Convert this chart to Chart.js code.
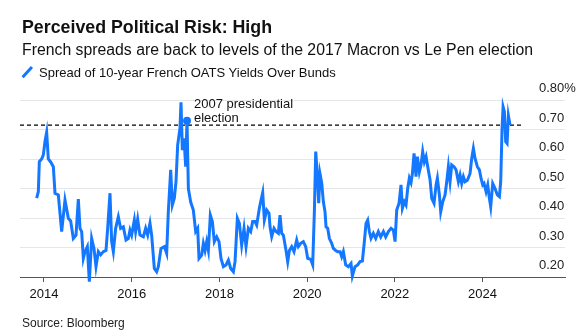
<!DOCTYPE html>
<html>
<head>
<meta charset="utf-8">
<script src="https://cdn.jsdelivr.net/npm/chart.js@4"></script>
<style>
  body { margin: 0; background: #fff; }
  .wrap { position: relative; width: 586px; height: 336px; font-family: "Liberation Sans", Arial, sans-serif; color: #111; }
  .wrap canvas { position: absolute; left: 0; top: 0; }
  .txt { position: absolute; left: 22px; line-height: 1; white-space: nowrap; }
  .title { top: 19px; font-size: 17.8px; font-weight: bold; }
  .sub { top: 41.6px; font-size: 15.8px; }
  .legend { top: 66px; left: 39px; font-size: 13px; }
  .swatch { position: absolute; left: 26px; top: 65px; width: 2.5px; height: 13.5px; background: #1477ff; transform: rotate(42deg); }
  .source { top: 317px; font-size: 12px; color: #222; }
</style>
</head>
<body>
<div class="wrap">
  <canvas id="spreadChart" width="586" height="336"></canvas>
  <div class="txt title">Perceived Political Risk: High</div>
  <div class="txt sub">French spreads are back to levels of the 2017 Macron vs Le Pen election</div>
  <div class="swatch"></div>
  <div class="txt legend">Spread of 10-year French OATS Yields Over Bunds</div>
  <div class="txt source">Source: Bloomberg</div>
</div>
<script>
// 10y OAT - Bund spread, % (dates as decimal years)
const dates = [
  2013.833, 2013.871, 2013.894, 2013.947, 2013.985, 2014.023, 2014.061, 2014.099, 2014.152, 2014.213,
  2014.251, 2014.327, 2014.403, 2014.479, 2014.555, 2014.608, 2014.669, 2014.730, 2014.783, 2014.821,
  2014.859, 2014.897, 2014.935, 2014.988, 2015.034, 2015.087, 2015.140, 2015.186, 2015.239, 2015.292,
  2015.353, 2015.414, 2015.452, 2015.505, 2015.543, 2015.581, 2015.634, 2015.695, 2015.748, 2015.809,
  2015.870, 2015.923, 2015.961, 2015.999, 2016.060, 2016.090, 2016.136, 2016.189, 2016.265, 2016.318,
  2016.364, 2016.417, 2016.455, 2016.516, 2016.569, 2016.607, 2016.668, 2016.744, 2016.797, 2016.835,
  2016.889, 2016.927, 2016.972, 2017.010, 2017.048, 2017.101, 2017.124, 2017.155, 2017.193, 2017.231,
  2017.261, 2017.292, 2017.345, 2017.405, 2017.459, 2017.504, 2017.535, 2017.596, 2017.634, 2017.672,
  2017.710, 2017.748, 2017.793, 2017.839, 2017.884, 2017.938, 2017.991, 2018.036, 2018.090, 2018.150,
  2018.204, 2018.257, 2018.318, 2018.356, 2018.409, 2018.455, 2018.508, 2018.561, 2018.607, 2018.660,
  2018.713, 2018.759, 2018.812, 2018.850, 2018.911, 2018.941, 2018.987, 2019.025, 2019.078, 2019.131,
  2019.154, 2019.192, 2019.245, 2019.291, 2019.344, 2019.382, 2019.420, 2019.458, 2019.511, 2019.557,
  2019.595, 2019.648, 2019.701, 2019.762, 2019.800, 2019.853, 2019.914, 2019.967, 2020.013, 2020.081,
  2020.127, 2020.165, 2020.196, 2020.233, 2020.264, 2020.294, 2020.332, 2020.370, 2020.408, 2020.431,
  2020.469, 2020.507, 2020.560, 2020.598, 2020.651, 2020.697, 2020.750, 2020.788, 2020.826, 2020.880,
  2020.940, 2021.001, 2021.031, 2021.092, 2021.153, 2021.206, 2021.260, 2021.305, 2021.343, 2021.381,
  2021.419, 2021.457, 2021.510, 2021.564, 2021.624, 2021.678, 2021.739, 2021.792, 2021.853, 2021.913,
  2021.966, 2022.005, 2022.043, 2022.096, 2022.141, 2022.172, 2022.217, 2022.255, 2022.293, 2022.331,
  2022.369, 2022.400, 2022.438, 2022.483, 2022.514, 2022.559, 2022.597, 2022.635, 2022.673, 2022.712,
  2022.750, 2022.803, 2022.841, 2022.894, 2022.940, 2022.970, 2023.016, 2023.046, 2023.092, 2023.145,
  2023.183, 2023.221, 2023.259, 2023.297, 2023.350, 2023.396, 2023.449, 2023.487, 2023.525, 2023.563,
  2023.601, 2023.654, 2023.715, 2023.753, 2023.791, 2023.829, 2023.882, 2023.928, 2023.966, 2024.004,
  2024.034, 2024.080, 2024.118, 2024.156, 2024.186, 2024.232, 2024.285, 2024.338, 2024.384, 2024.414,
  2024.445, 2024.468, 2024.498, 2024.528, 2024.559, 2024.589, 2024.627
];
const spread = [
  0.467, 0.489, 0.591, 0.600, 0.614, 0.659, 0.690, 0.600, 0.590, 0.574,
  0.484, 0.478, 0.354, 0.461, 0.399, 0.390, 0.331, 0.342, 0.464, 0.365,
  0.354, 0.263, 0.286, 0.303, 0.184, 0.331, 0.297, 0.235, 0.286, 0.275,
  0.286, 0.290, 0.365, 0.484, 0.320, 0.286, 0.365, 0.404, 0.365, 0.370,
  0.325, 0.330, 0.359, 0.342, 0.393, 0.354, 0.396, 0.342, 0.336, 0.365,
  0.342, 0.382, 0.342, 0.229, 0.218, 0.235, 0.297, 0.303, 0.280, 0.421,
  0.563, 0.444, 0.467, 0.523, 0.647, 0.704, 0.792, 0.630, 0.670, 0.574,
  0.730, 0.500, 0.454, 0.427, 0.354, 0.365, 0.263, 0.274, 0.314, 0.290,
  0.320, 0.290, 0.410, 0.388, 0.320, 0.336, 0.320, 0.263, 0.235, 0.241,
  0.257, 0.229, 0.218, 0.252, 0.399, 0.382, 0.308, 0.365, 0.303, 0.365,
  0.354, 0.388, 0.388, 0.376, 0.433, 0.455, 0.486, 0.393, 0.427, 0.416,
  0.370, 0.337, 0.365, 0.354, 0.348, 0.410, 0.348, 0.342, 0.297, 0.252,
  0.290, 0.303, 0.286, 0.325, 0.303, 0.314, 0.320, 0.303, 0.263, 0.260,
  0.241, 0.421, 0.625, 0.546, 0.450, 0.550, 0.520, 0.455, 0.421, 0.370,
  0.365, 0.331, 0.314, 0.297, 0.290, 0.286, 0.286, 0.269, 0.286, 0.241,
  0.235, 0.246, 0.203, 0.235, 0.241, 0.252, 0.254, 0.320, 0.382, 0.393,
  0.354, 0.331, 0.348, 0.331, 0.354, 0.336, 0.354, 0.336, 0.354, 0.365,
  0.359, 0.320, 0.427, 0.450, 0.512, 0.433, 0.455, 0.444, 0.500, 0.535,
  0.520, 0.550, 0.619, 0.540, 0.608, 0.556, 0.580, 0.625, 0.590, 0.608,
  0.574, 0.530, 0.467, 0.450, 0.512, 0.535, 0.478, 0.421, 0.455, 0.478,
  0.523, 0.574, 0.523, 0.580, 0.574, 0.563, 0.523, 0.546, 0.517, 0.540,
  0.523, 0.528, 0.551, 0.602, 0.636, 0.602, 0.574, 0.563, 0.534, 0.512,
  0.517, 0.489, 0.512, 0.467, 0.438, 0.517, 0.500, 0.478, 0.472, 0.523,
  0.704, 0.777, 0.760, 0.659, 0.653, 0.747, 0.715
];

// 2017 election reference level and the marked point
const refLevel = 0.715;
const refEnd = 2024.92;
const electionPoint = { x: 2017.261, y: 0.73 };
const electionLabel = ['2007 presidential', 'election'];

const xMin = 2013.453, xMax = 2025.88;
const yearTicks = [2014, 2016, 2018, 2020, 2022, 2024];
const yTicks = [0.2, 0.3, 0.4, 0.5, 0.6, 0.7, 0.8];
const yTickLabels = ['0.20', '0.30', '0.40', '0.50', '0.60', '0.70', '0.80%'];

const blue = '#1477ff';
const font = '"Liberation Sans", Arial, sans-serif';

const labelsPlugin = {
  id: 'labels',
  afterDraw(chart) {
    const ctx = chart.ctx;
    const y = chart.scales.y, x = chart.scales.x;
    ctx.save();
    ctx.font = '13px ' + font;
    ctx.fillStyle = '#222';
    ctx.textAlign = 'left';
    ctx.textBaseline = 'alphabetic';
    yTicks.forEach((v, i) => {
      ctx.fillText(yTickLabels[i], 539, y.getPixelForValue(v) - 8);
    });
    // note next to the election marker
    const px = x.getPixelForValue(electionPoint.x);
    const py = y.getPixelForValue(electionPoint.y);
    ctx.fillStyle = '#111';
    ctx.fillText(electionLabel[0], px + 7, py - 12.5);
    ctx.fillText(electionLabel[1], px + 7, py + 1.5);
    ctx.restore();
  }
};

new Chart(document.getElementById('spreadChart'), {
  type: 'line',
  data: {
    datasets: [
      {
        data: [{ x: electionPoint.x, y: electionPoint.y }],
        pointRadius: 4,
        pointBackgroundColor: blue,
        pointBorderWidth: 0,
        showLine: false,
        order: 0,
      },
      {
        data: dates.map((d, i) => ({ x: d, y: spread[i] })),
        borderColor: blue,
        borderWidth: 3,
        pointRadius: 0,
        tension: 0,
        clip: false,
        order: 1,
      },
      {
        data: [{ x: xMin, y: refLevel }, { x: refEnd, y: refLevel }],
        borderColor: '#000',
        borderWidth: 1.2,
        borderDash: [4, 3],
        pointRadius: 0,
        order: 2,
      },
    ],
  },
  options: {
    responsive: false,
    animation: false,
    events: [],
    layout: { padding: { left: 20, right: 21, top: 100, bottom: 29 } },
    plugins: { legend: { display: false }, tooltip: { enabled: false } },
    scales: {
      x: {
        type: 'linear',
        min: xMin,
        max: xMax,
        afterBuildTicks: s => { s.ticks = yearTicks.map(v => ({ value: v })); },
        afterFit: s => { s.height = 30; },
        grid: { drawOnChartArea: false, drawTicks: true, tickLength: 5, tickColor: '#555' },
        border: { display: true, color: '#555', width: 1 },
        ticks: {
          padding: 5,
          color: '#111',
          font: { family: font, size: 13 },
          callback: v => String(v),
        },
      },
      y: {
        position: 'right',
        min: 0.2,
        max: 0.8,
        afterBuildTicks: s => { s.ticks = yTicks.map(v => ({ value: v })); },
        afterFit: s => { s.width = 0; },
        grid: { color: '#e6e6e6', lineWidth: 1, drawTicks: false },
        border: { display: false },
        ticks: { display: false },
      },
    },
  },
  plugins: [labelsPlugin],
});
</script>
</body>
</html>
